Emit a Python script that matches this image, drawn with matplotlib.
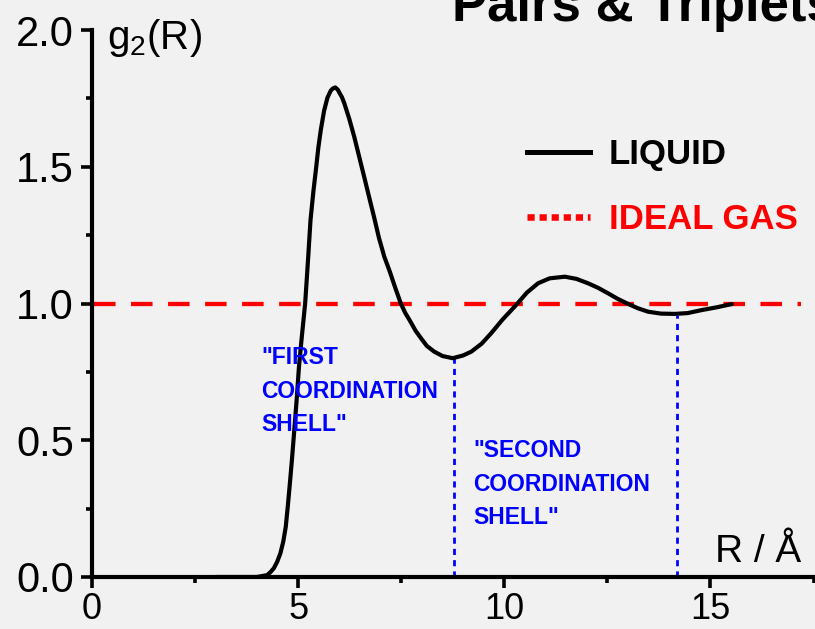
import numpy as np
import matplotlib
matplotlib.use('Agg')
import matplotlib.pyplot as plt
from matplotlib.lines import Line2D
from matplotlib.ticker import MultipleLocator

plt.rcParams['font.family'] = ['Liberation Sans', 'DejaVu Sans']
plt.rcParams['mathtext.fontset'] = 'custom'
plt.rcParams['mathtext.rm'] = 'Liberation Sans'
plt.rcParams['mathtext.it'] = 'Liberation Sans'

#-- pair distribution function of the liquid (R in Angstrom)
r_liq = [3.0, 4.0, 4.25, 4.33, 4.41, 4.49, 4.57, 4.64, 4.70, 4.75, 4.80, 4.85,
         4.90, 4.96, 5.02, 5.09, 5.17, 5.24, 5.30, 5.37, 5.43, 5.49, 5.55, 5.63,
         5.71, 5.79, 5.84, 5.90, 5.96, 6.01, 6.06, 6.12, 6.24, 6.36, 6.48, 6.60,
         6.72, 6.84, 6.96, 7.09, 7.22, 7.35, 7.49, 7.60, 7.70, 7.85, 7.98, 8.12,
         8.30, 8.50, 8.75, 9.00, 9.20, 9.45, 9.68, 9.95, 10.29, 10.55, 10.82,
         11.10, 11.47, 11.75, 12.03, 12.28, 12.52, 12.75, 13.01, 13.25, 13.49,
         13.80, 14.14, 14.45, 14.79, 15.15, 15.52]
g_liq = [0.0, 0.0, 0.007, 0.018, 0.032, 0.055, 0.087, 0.13, 0.184, 0.26, 0.343,
         0.43, 0.525, 0.64, 0.769, 0.88, 1.0, 1.16, 1.305, 1.41, 1.488, 1.57,
         1.635, 1.705, 1.752, 1.778, 1.786, 1.790, 1.782, 1.768, 1.755, 1.732,
         1.675, 1.61, 1.537, 1.464, 1.39, 1.317, 1.24, 1.171, 1.118, 1.06, 1.0,
         0.965, 0.94, 0.90, 0.873, 0.845, 0.824, 0.808, 0.80, 0.81, 0.824,
         0.853, 0.891, 0.94, 0.995, 1.04, 1.074, 1.092, 1.098, 1.09, 1.074,
         1.057, 1.037, 1.017, 0.998, 0.982, 0.970, 0.963, 0.962, 0.965, 0.976,
         0.986, 0.998]

#-- ideal gas reference
r_gas = [0.05, 17.2]
g_gas = [1.0, 1.0]

#-- minima bounding the coordination shells
r_shell = [8.77, 14.18]
g_shell = [0.80, 0.958]

fig = plt.figure(figsize=(8.15, 6.29), dpi=100, facecolor='#f1f1f1')
ax = fig.add_axes([92/815., 52/629., 721.5/815., 547/629.])
ax.set_facecolor('#f1f1f1')

ax.plot(r_gas, g_gas, color='#ff0000', lw=3.1, dashes=(5.0, 3.6), zorder=2)
ax.plot(r_liq, g_liq, color='black', lw=3.0, solid_joinstyle='round',
        solid_capstyle='round', zorder=3)
ax.vlines(r_shell, 0, g_shell, colors='#0000ff', lw=2.0,
          linestyles=[(0, (2.2, 1.85))], zorder=1)

ax.set_xlim(0, 17.5)
ax.set_ylim(0, 2.0)
ax.xaxis.set_major_locator(MultipleLocator(5))
ax.xaxis.set_minor_locator(MultipleLocator(2.5))
ax.yaxis.set_major_locator(MultipleLocator(0.5))
ax.yaxis.set_minor_locator(MultipleLocator(0.25))
ax.yaxis.set_major_formatter(plt.FormatStrFormatter('%.1f'))

for s in ['top', 'right']:
    ax.spines[s].set_visible(False)
for s in ['left', 'bottom']:
    ax.spines[s].set_linewidth(3.0)
    ax.spines[s].set_capstyle('projecting')

ax.tick_params(which='major', length=8, width=2.6, direction='out')
ax.tick_params(which='minor', length=4, width=2.6, direction='out')
ax.tick_params(axis='y', which='major', labelsize=30, pad=5)
ax.tick_params(axis='x', which='major', labelsize=26, pad=3)

ax.text(0.36, 1.93, 'g$_2$(R)', fontsize=29, va='baseline', ha='left')
ax.text(15.12, 0.055, u'R / \u00c5', fontsize=28, va='baseline', ha='left')

ax.text(4.10, 0.845, '"FIRST\nCOORDINATION\nSHELL"', color='#0000ff',
        fontsize=16.5, fontweight='bold', va='top', ha='left', linespacing=1.6)
ax.text(9.25, 0.505, '"SECOND\nCOORDINATION\nSHELL"', color='#0000ff',
        fontsize=16.5, fontweight='bold', va='top', ha='left', linespacing=1.6)

handles = [Line2D([], [], color='black', lw=3.6),
           Line2D([], [], color='#ff0000', lw=4.7, linestyle=(0, (1.1, 0.75)))]
leg = ax.legend(handles, ['LIQUID', 'IDEAL GAS'], loc='upper left',
                bbox_to_anchor=(527/815., 1 - 138/629.),
                bbox_transform=fig.transFigure, frameon=False,
                prop={'size': 25, 'weight': 'bold'}, handlelength=1.8,
                handletextpad=0.55, labelspacing=0.92, borderpad=0,
                borderaxespad=0, labelcolor=['black', '#ff0000'])

fig.text(452/815., 1 - 20.7/629., 'Pairs & Triplets', fontsize=38,
         fontweight='bold', va='baseline', ha='left')

fig.savefig('out.png', dpi=100, facecolor=fig.get_facecolor())
